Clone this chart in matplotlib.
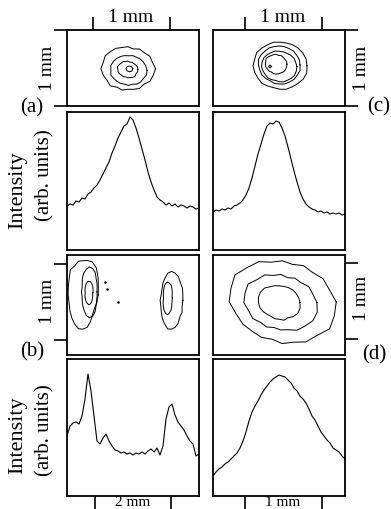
import numpy as np
import matplotlib
matplotlib.use("Agg")
import matplotlib.pyplot as plt

plt.rcParams["font.family"] = ["Liberation Serif", "DejaVu Serif"]

# ---- beam profiles (intensity in arb. units, sampled evenly across each panel) ----
prof_a = [44, 46, 45, 49, 48, 52, 51, 56, 58, 62, 65, 70, 76, 82, 88, 97, 104, 112,
          118, 124, 126, 133, 130, 122, 112, 101, 90, 78, 68, 60, 53, 50, 48, 45, 47,
          44, 46, 43, 45, 44, 42, 44, 43, 41, 42]
prof_c = [38, 40, 39, 41, 40, 42, 41, 44, 45, 47, 50, 55, 62, 72, 84, 96, 106, 116,
          124, 127, 126, 129, 128, 122, 114, 103, 91, 79, 68, 58, 51, 46, 43, 41, 40,
          38, 39, 37, 38, 36, 37, 36, 37, 35, 36]
prof_b = [60, 70, 73, 74, 72, 80, 97, 122, 105, 80, 55, 52, 58, 62, 55, 50, 46, 45,
          43, 44, 42, 43, 41, 43, 42, 44, 42, 45, 47, 44, 48, 41, 50, 77, 89, 92, 81,
          74, 70, 66, 60, 55, 52, 40, 42]
prof_d = [20, 24, 27, 29, 32, 34, 37, 40, 43, 48, 55, 64, 75, 84, 90, 95, 101, 106,
          110, 114, 117, 119, 121, 120, 119, 116, 113, 108, 105, 100, 97, 93, 87, 80,
          76, 70, 64, 60, 56, 53, 48, 46, 44, 40, 37]

# ---- contour lines: centre (mm) and radius (mm) every 15 degrees ----
a_centres = [(0.79, 0.49), (0.80, 0.47), (0.79, 0.48), (0.81, 0.49)]
a_radii = [
    [0.36, 0.33, 0.33, 0.30, 0.30, 0.27, 0.29, 0.29, 0.31, 0.32, 0.34, 0.33,
     0.35, 0.33, 0.31, 0.32, 0.28, 0.29, 0.27, 0.28, 0.30, 0.29, 0.33, 0.34],
    [0.24, 0.23, 0.22, 0.21, 0.20, 0.20, 0.19, 0.20, 0.21, 0.22, 0.23, 0.24,
     0.23, 0.24, 0.22, 0.21, 0.20, 0.19, 0.20, 0.19, 0.21, 0.22, 0.22, 0.24],
    [0.13, 0.13, 0.12, 0.11, 0.11, 0.10, 0.11, 0.11, 0.12, 0.12, 0.13, 0.14,
     0.13, 0.13, 0.12, 0.11, 0.11, 0.10, 0.11, 0.11, 0.12, 0.13, 0.12, 0.13],
    [0.045, 0.04, 0.035, 0.04, 0.045, 0.04, 0.04, 0.045],
]
c_centres = [(0.87, 0.53), (0.86, 0.54), (0.86, 0.52), (0.82, 0.55), (0.74, 0.52)]
c_radii = [
    [0.35, 0.35, 0.34, 0.33, 0.32, 0.31, 0.31, 0.32, 0.32, 0.33, 0.35, 0.34,
     0.35, 0.34, 0.33, 0.33, 0.31, 0.30, 0.31, 0.32, 0.32, 0.33, 0.35, 0.36],
    [0.27, 0.27, 0.26, 0.26, 0.25, 0.25, 0.25, 0.25, 0.26, 0.26, 0.27, 0.28,
     0.27, 0.26, 0.26, 0.25, 0.24, 0.25, 0.25, 0.26, 0.26, 0.27, 0.27, 0.28],
    [0.23, 0.22, 0.22, 0.21, 0.20, 0.20, 0.20, 0.21, 0.21, 0.22, 0.23, 0.23,
     0.23, 0.22, 0.21, 0.21, 0.20, 0.19, 0.20, 0.21, 0.21, 0.22, 0.23, 0.23],
    [0.14, 0.14, 0.13, 0.13, 0.13, 0.12, 0.13, 0.13, 0.13, 0.14, 0.15, 0.14,
     0.14, 0.14, 0.13, 0.13, 0.12, 0.13, 0.13, 0.13, 0.13, 0.14, 0.14, 0.14],
    [0.02, 0.02, 0.02, 0.02],
]
b_centres = [(0.42, 0.79), (0.59, 0.83), (0.58, 0.82), (2.75, 0.72), (2.65, 0.75)]
b_radii = [
    [0.40, 0.42, 0.46, 0.50, 0.50, 0.47, 0.45, 0.46, 0.44, 0.47, 0.42, 0.40,
     0.39, 0.38, 0.40, 0.42, 0.44, 0.46, 0.45, 0.44, 0.40, 0.36, 0.35, 0.38],
    [0.20, 0.21, 0.23, 0.25, 0.30, 0.32, 0.33, 0.31, 0.29, 0.26, 0.22, 0.20,
     0.21, 0.20, 0.22, 0.25, 0.28, 0.32, 0.34, 0.33, 0.30, 0.25, 0.22, 0.21],
    [0.10, 0.11, 0.12, 0.13, 0.14, 0.15, 0.15, 0.15, 0.14, 0.13, 0.12, 0.11,
     0.10, 0.11, 0.12, 0.13, 0.14, 0.15, 0.16, 0.15, 0.14, 0.12, 0.11, 0.10],
    [0.30, 0.31, 0.33, 0.33, 0.36, 0.37, 0.38, 0.37, 0.34, 0.32, 0.29, 0.28,
     0.30, 0.29, 0.31, 0.34, 0.36, 0.39, 0.38, 0.37, 0.35, 0.31, 0.32, 0.29],
    [0.12, 0.12, 0.14, 0.16, 0.19, 0.20, 0.21, 0.20, 0.18, 0.15, 0.13, 0.12,
     0.11, 0.12, 0.14, 0.16, 0.19, 0.21, 0.22, 0.20, 0.18, 0.15, 0.13, 0.12],
]
b_specks_x = [1.00, 1.05, 1.34]
b_specks_y = [0.96, 0.87, 0.70]
d_centres = [(0.90, 0.70), (0.88, 0.69), (0.86, 0.69)]
d_radii = [
    [0.70, 0.63, 0.61, 0.55, 0.55, 0.51, 0.54, 0.54, 0.61, 0.64, 0.71, 0.69,
     0.69, 0.62, 0.59, 0.55, 0.54, 0.51, 0.55, 0.55, 0.61, 0.63, 0.71, 0.70],
    [0.47, 0.43, 0.42, 0.37, 0.37, 0.34, 0.37, 0.37, 0.42, 0.43, 0.49, 0.48,
     0.48, 0.43, 0.42, 0.37, 0.37, 0.34, 0.36, 0.37, 0.42, 0.44, 0.48, 0.49],
    [0.27, 0.26, 0.25, 0.24, 0.23, 0.22, 0.22, 0.23, 0.24, 0.27, 0.28, 0.28,
     0.27, 0.26, 0.24, 0.22, 0.21, 0.22, 0.22, 0.24, 0.23, 0.26, 0.28, 0.28],
]

W, H = 391, 510
fig = plt.figure(figsize=(W / 100, H / 100), dpi=100)


def panel(x0, y0, x1, y1):
    ax = fig.add_axes([x0 / W, 1 - y1 / H, (x1 - x0) / W, (y1 - y0) / H])
    for s in ax.spines.values():
        s.set_linewidth(1.3)
    ax.tick_params(length=0, labelleft=False, labelbottom=False)
    ax.set_xticks([])
    ax.set_yticks([])
    return ax


def contours(ax, centres, radii):
    for (cx, cy), r in zip(centres, radii):
        r = np.array(r + r[:1])
        t = np.linspace(0, 2 * np.pi, len(r))
        ax.plot(cx + r * np.cos(t), cy + r * np.sin(t), color="black", lw=0.7)


def fx(px):
    return px / W


def fy(py):
    return 1 - py / H


tick_kw = dict(direction="out", length=9.5, width=1.2, color="black")

# (a) contour
ax = panel(67, 31, 199, 107)
ax.set_xlim(0, 1.714)
ax.set_ylim(0, 1)
contours(ax, a_centres, a_radii)
ax.xaxis.set_ticks_position("top")
ax.set_xticks([0.34, 1.34])
ax.set_yticks([0, 1])
ax.tick_params(axis="both", labeltop=False, labelleft=False, **tick_kw)

# (c) contour
ax = panel(213, 31, 345, 107)
ax.set_xlim(0, 1.714)
ax.set_ylim(0, 1)
contours(ax, c_centres, c_radii)
ax.xaxis.set_ticks_position("top")
ax.yaxis.set_ticks_position("right")
ax.set_xticks([0.416, 1.416])
ax.set_yticks([0, 1])
ax.tick_params(axis="both", labeltop=False, labelright=False, **tick_kw)

# (a), (c) profiles
for x0, prof in [(67, prof_a), (213, prof_c)]:
    ax = panel(x0, 113, x0 + 132, 251)
    ax.set_xlim(0, 1.714)
    ax.set_ylim(0, 138)
    ax.plot(np.linspace(0, 1.714, len(prof)), prof, color="black", lw=0.8)

# (b) contour
ax = panel(67, 256, 199, 356)
ax.set_xlim(0, 3.474)
ax.set_ylim(0, 1.316)
contours(ax, b_centres, b_radii)
ax.plot(b_specks_x, b_specks_y, "o", ms=0.8, color="black")
ax.set_yticks([0.197, 1.197])
ax.tick_params(axis="y", labelleft=False, **tick_kw)

# (d) contour
ax = panel(213, 256, 345, 356)
ax.set_xlim(0, 1.714)
ax.set_ylim(0, 1.316)
contours(ax, d_centres, d_radii)
ax.yaxis.set_ticks_position("right")
ax.set_yticks([0.21, 1.21])
ax.tick_params(axis="y", labelright=False, **tick_kw)

# (b) profile
ax = panel(67, 360, 199, 497)
ax.set_xlim(0, 3.474)
ax.set_ylim(0, 137)
ax.plot(np.linspace(0, 3.474, len(prof_b)), prof_b, color="black", lw=0.8)
ax.set_xticks([0.737, 2.737])
ax.tick_params(axis="x", labelbottom=False, **tick_kw)

# (d) profile
ax = panel(213, 360, 345, 497)
ax.set_xlim(0, 1.714)
ax.set_ylim(0, 137)
ax.plot(np.linspace(0, 1.714, len(prof_d)), prof_d, color="black", lw=0.8)
ax.set_xticks([0.416, 1.416])
ax.tick_params(axis="x", labelbottom=False, **tick_kw)

fs = 14
fig.text(fx(131), fy(18), "1 mm", ha="center", va="center", fontsize=fs)
fig.text(fx(283), fy(18), "1 mm", ha="center", va="center", fontsize=fs)
fig.text(fx(48), fy(68), "1 mm", ha="center", va="center", rotation=90, fontsize=fs)
fig.text(fx(362), fy(68), "1 mm", ha="center", va="center", rotation=90, fontsize=fs)
fig.text(fx(48), fy(301), "1 mm", ha="center", va="center", rotation=90, fontsize=fs)
fig.text(fx(362), fy(298), "1 mm", ha="center", va="center", rotation=90, fontsize=fs)
fig.text(fx(133), fy(506.5), "2 mm", ha="center", va="baseline", fontsize=11)
fig.text(fx(283), fy(506.5), "1 mm", ha="center", va="baseline", fontsize=11)

fig.text(fx(32), fy(108), "(a)", ha="center", va="center", fontsize=15)
fig.text(fx(367), fy(107), "(c)", ha="left", va="center", fontsize=15)
fig.text(fx(32), fy(352), "(b)", ha="center", va="center", fontsize=15)
fig.text(fx(362), fy(355), "(d)", ha="left", va="center", fontsize=15)

for yc, yc2 in [(190, 175), (435, 430)]:
    fig.text(fx(18), fy(yc), "Intensity", ha="center", va="center", rotation=90, fontsize=16)
    fig.text(fx(45), fy(yc2), "(arb. units)", ha="center", va="center", rotation=90, fontsize=15)

fig.savefig("out.png", dpi=100)
